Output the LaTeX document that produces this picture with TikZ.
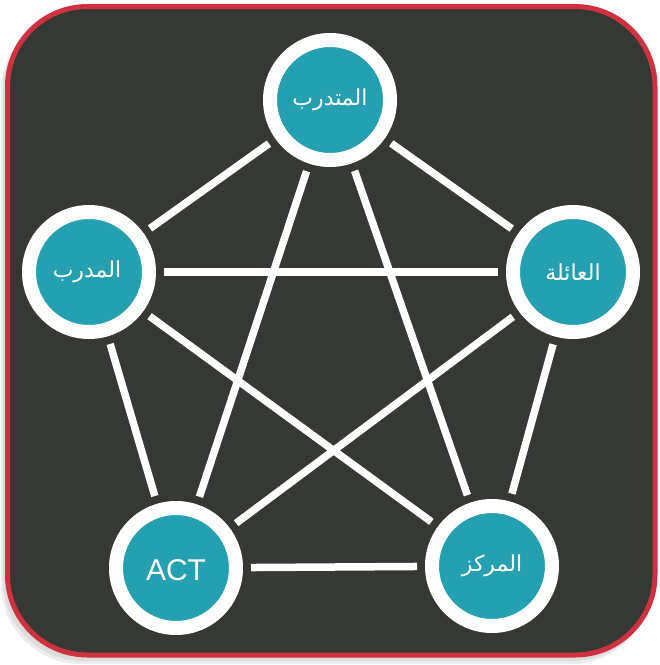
\documentclass[tikz,border=0pt]{standalone}
\usepackage{fontspec}
\setmainfont{Liberation Sans}
\newfontfamily\arabicfont[Script=Arabic]{DejaVu Sans}
\TeXXeTstate=1
\definecolor{bgdark}{RGB}{54,56,51}
\definecolor{frame}{RGB}{208,49,64}
\definecolor{tealc}{RGB}{36,160,176}
\begin{document}
\begin{tikzpicture}[x=1pt,y=-1pt,
  hub/.style={circle, fill=tealc, draw=white, line width=14pt, minimum size=120pt, inner sep=0pt},
  link/.style={draw=white, line width=7.5pt, shorten >=8pt, shorten <=8pt},
  lbl/.style={text=white, inner sep=0pt, font=\arabicfont\fontsize{22}{26}\selectfont},
  latin/.style={text=white, inner sep=0pt, font=\fontsize{30}{34}\selectfont}]
\useasboundingbox (0,0) rectangle (660,665);
% frame shadow
\fill[black!25, opacity=0.5, rounded corners=80pt] (3,10) rectangle (652,661);
\fill[black!15, opacity=0.5, rounded corners=80pt] (1,12) rectangle (651,664);
% frame
\draw[fill=bgdark, draw=frame, line width=5pt, rounded corners=80pt] (7.5,6.5) rectangle (655,655);
% circles
\node[hub] (T) at (330,100) {};
\node[hub] (L) at (89,272) {};
\node[hub] (R) at (573,272) {};
\node[hub] (A) at (176,568) {};
\node[hub] (C) at (492,566) {};
% connectors
\draw[link] (T) -- (L);
\draw[link] (T) -- (R);
\draw[link] (T) -- (A);
\draw[link] (T) -- (C);
\draw[link] (L) -- (R);
\draw[link] (L) -- (A);
\draw[link] (L) -- (C);
\draw[link] (R) -- (A);
\draw[link] (R) -- (C);
\draw[link] (A) -- (C);
% labels
\node[lbl] (Tt) at (T.center) {\beginR المتدرب\endR};
\node[lbl] (Lt) at ([shift={(-2,0)}]L.center) {\beginR المدرب\endR};
\node[lbl] (Rt) at (R.center) {\beginR العائلة\endR};
\node[lbl] (Ct) at (C.center) {\beginR المركز\endR};
\node[latin] (At) at ([shift={(0,2)}]A.center) {ACT};
\end{tikzpicture}
\end{document}
